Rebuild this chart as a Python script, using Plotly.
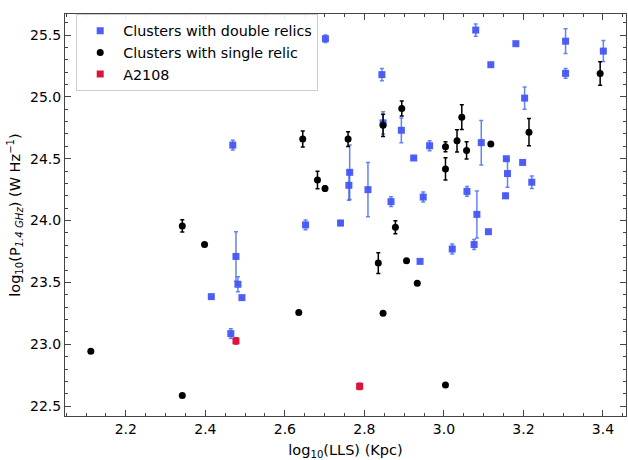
import plotly.graph_objects as go

# Clusters with double relics
dbl_x = [2.702, 2.469, 2.652, 2.740, 2.844, 2.847, 2.893, 2.964, 2.924, 3.080, 3.181, 3.118,
         3.306, 3.306, 3.401, 3.203, 3.094, 3.157, 3.160, 3.198, 3.221, 3.155, 3.058, 3.083,
         2.763, 2.761, 2.809, 2.867, 2.948, 3.112, 3.021, 3.076, 2.940, 2.477, 2.482, 2.415,
         2.492, 2.464]
dbl_y = [25.47, 24.61, 23.965, 23.98, 25.18, 24.79, 24.73, 24.605, 24.506, 25.54, 25.43, 25.26,
         25.45, 25.19, 25.37, 24.99, 24.63, 24.50, 24.38, 24.47, 24.31, 24.20, 24.236, 24.05,
         24.39, 24.285, 24.25, 24.153, 24.19, 23.91, 23.77, 23.806, 23.67, 23.71, 23.485, 23.385,
         23.377, 23.086]
dbl_err = [0.03, 0.04, 0.04, 0.02, 0.05, 0.09, 0.10, 0.04, 0.0, 0.05, 0.0, 0.0,
           0.10, 0.04, 0.085, 0.09, 0.18, 0.0, 0.11, 0.0, 0.05, 0.02, 0.04, 0.19,
           0.22, 0.12, 0.22, 0.04, 0.04, 0.0, 0.04, 0.04, 0.0, 0.20, 0.06, 0.0,
           0.0, 0.04]

# Clusters with single relic
sgl_x = [2.112, 2.342, 2.398, 2.342, 2.635, 2.645, 2.682, 2.701, 2.759, 2.847, 2.894, 3.004,
         3.033, 3.045, 3.057, 3.004, 3.118, 3.214, 3.393, 2.878, 2.835, 2.906, 2.933, 2.847,
         3.004]
sgl_y = [22.944, 23.957, 23.806, 22.586, 23.256, 24.659, 24.328, 24.26, 24.659, 24.77, 24.906, 24.597,
         24.645, 24.836, 24.567, 24.417, 24.62, 24.715, 25.188, 23.946, 23.656, 23.675, 23.494, 23.25,
         22.67]
sgl_err = [0.0, 0.05, 0.0, 0.0, 0.0, 0.065, 0.07, 0.02, 0.06, 0.09, 0.06, 0.04,
           0.09, 0.10, 0.07, 0.09, 0.0, 0.11, 0.095, 0.053, 0.083, 0.0, 0.0, 0.0,
           0.0]

# A2108
a_x = [2.477, 2.788]
a_y = [23.027, 22.66]
a_err = [0.025, 0.025]

x_ticks = [2.2, 2.4, 2.6, 2.8, 3.0, 3.2, 3.4]
y_ticks = [22.5, 23.0, 23.5, 24.0, 24.5, 25.0, 25.5]

blue = "rgba(70,85,245,0.95)"
fig = go.Figure()
fig.add_trace(go.Scatter(
    x=dbl_x, y=dbl_y, mode="markers", name="Clusters with double relics",
    marker=dict(symbol="square", size=7, color=blue),
    error_y=dict(type="data", array=dbl_err, visible=True, color="rgba(60,100,235,0.8)",
                 thickness=1.5, width=2)))
fig.add_trace(go.Scatter(
    x=sgl_x, y=sgl_y, mode="markers", name="Clusters with single relic",
    marker=dict(symbol="circle", size=7, color="black"),
    error_y=dict(type="data", array=sgl_err, visible=True, color="black",
                 thickness=1.5, width=2)))
fig.add_trace(go.Scatter(
    x=a_x, y=a_y, mode="markers", name="A2108",
    marker=dict(symbol="square", size=7, color="crimson"),
    error_y=dict(type="data", array=a_err, visible=True, color="crimson",
                 thickness=1.5, width=2)))

axis_common = dict(showline=True, linecolor="#444", linewidth=1, mirror="ticks",
                   ticks="inside", ticklen=6, tickcolor="#444", showgrid=False, zeroline=False,
                   tickfont=dict(family="DejaVu Sans", size=14, color="black"))
fig.update_xaxes(range=[2.047, 3.458], tickvals=x_ticks, ticktext=[f"{v:.1f}" for v in x_ticks],
                 minor=dict(ticks="inside", dtick=0.05, tick0=2.0, ticklen=3, tickcolor="#444"),
                 title=dict(text="log<sub>10</sub>(LLS) (Kpc)", standoff=9,
                            font=dict(family="DejaVu Sans", size=14.5, color="black")),
                 **axis_common)
fig.update_yaxes(range=[22.42, 25.67], tickvals=y_ticks, ticktext=[f"{v:.1f}" for v in y_ticks],
                 minor=dict(ticks="inside", dtick=0.1, tick0=22.0, ticklen=3, tickcolor="#444"),
                 title=dict(text="log<sub>10</sub>(P<sub><i>1.4 GHz</i></sub>) (W Hz<sup>−1</sup>)",
                            standoff=5, font=dict(family="DejaVu Sans", size=14.5, color="black")),
                 **axis_common)
fig.update_layout(
    width=628, height=460, margin=dict(l=65, r=2, t=14, b=44, autoexpand=False),
    plot_bgcolor="white", paper_bgcolor="white",
    font=dict(family="DejaVu Sans", size=14, color="black"),
    legend=dict(x=0.02, y=1.0, xanchor="left", yanchor="top", bgcolor="rgba(255,255,255,0.9)",
                bordercolor="#ccc", borderwidth=1, font=dict(size=14.3), tracegroupgap=0,
                itemwidth=36),
)
fig.write_html("out.html", config={"displayModeBar": False},
               post_script="document.body.style.margin='0';")
